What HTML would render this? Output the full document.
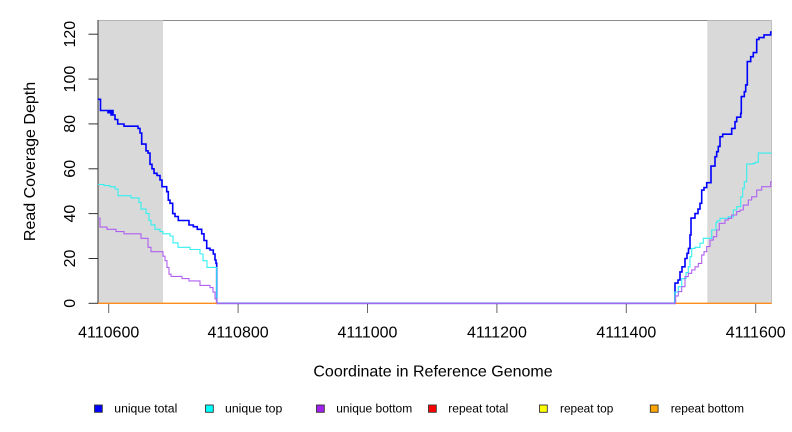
<!DOCTYPE html>
<html><head><meta charset="utf-8"><style>
html,body{margin:0;padding:0;background:#fff;}
svg{display:block;}
text{font-family:"Liberation Sans",Arial,sans-serif;fill:#000;}
</style></head><body>
<svg width="792" height="432" viewBox="0 0 792 432" xmlns="http://www.w3.org/2000/svg">
<rect x="0" y="0" width="792" height="432" fill="#fff"/>
<!-- shaded flank regions -->
<rect x="98" y="20.5" width="65" height="283" fill="#d9d9d9"/>
<rect x="707.3" y="20.5" width="64.4" height="283" fill="#d9d9d9"/>
<!-- box lines -->
<line x1="163" y1="20.5" x2="707.3" y2="20.5" stroke="#8c8c8c" stroke-width="1"/>
<line x1="98" y1="20.5" x2="163" y2="20.5" stroke="#b4b4b4" stroke-width="1"/>
<line x1="707.3" y1="20.5" x2="771.7" y2="20.5" stroke="#b4b4b4" stroke-width="1"/>
<line x1="771.5" y1="20.5" x2="771.5" y2="303.3" stroke="#c0c0c0" stroke-width="1"/>
<line x1="98" y1="20" x2="98" y2="303.3" stroke="#333" stroke-width="1"/>

<!-- y ticks -->
<g stroke="#333" stroke-width="1">
<line x1="88.5" y1="303.3" x2="98" y2="303.3"/>
<line x1="88.5" y1="258.5" x2="98" y2="258.5"/>
<line x1="88.5" y1="213.6" x2="98" y2="213.6"/>
<line x1="88.5" y1="168.8" x2="98" y2="168.8"/>
<line x1="88.5" y1="123.9" x2="98" y2="123.9"/>
<line x1="88.5" y1="79.1" x2="98" y2="79.1"/>
<line x1="88.5" y1="34.2" x2="98" y2="34.2"/>
</g>
<g font-size="16" text-anchor="middle">
<text transform="translate(75,303.3) rotate(-90)">0</text>
<text transform="translate(75,258.5) rotate(-90)">20</text>
<text transform="translate(75,213.6) rotate(-90)">40</text>
<text transform="translate(75,168.8) rotate(-90)">60</text>
<text transform="translate(75,123.9) rotate(-90)">80</text>
<text transform="translate(75,79.1) rotate(-90)">100</text>
<text transform="translate(75,34.2) rotate(-90)">120</text>
</g>
<text font-size="16" text-anchor="middle" transform="translate(35,161.5) rotate(-90)">Read Coverage Depth</text>

<!-- x ticks -->
<g stroke="#666" stroke-width="1">
<line x1="108.7" y1="304" x2="108.7" y2="313"/>
<line x1="238.1" y1="304" x2="238.1" y2="313"/>
<line x1="367.5" y1="304" x2="367.5" y2="313"/>
<line x1="496.9" y1="304" x2="496.9" y2="313"/>
<line x1="626.3" y1="304" x2="626.3" y2="313"/>
<line x1="755.7" y1="304" x2="755.7" y2="313"/>
</g>
<g font-size="16" text-anchor="middle">
<text x="108.7" y="337.3">4110600</text>
<text x="238.1" y="337.3">4110800</text>
<text x="367.5" y="337.3">4111000</text>
<text x="496.9" y="337.3">4111200</text>
<text x="626.3" y="337.3">4111400</text>
<text x="755.7" y="337.3">4111600</text>
</g>
<text font-size="16" text-anchor="middle" x="433" y="376.5">Coordinate in Reference Genome</text>

<!-- unique total (blue) -->
<path fill="none" stroke="#0000ff" stroke-width="1.6" stroke-linejoin="miter" d="
M98,99.3 H100.5 V110.5 H108 V112.7 H109.5 V110.5 H111 V115 H112 V110.5 H113 V115 H115 V119.5 H117.7 V124 H124 V126.2 H138 V128.4 H140 V133 H141.7 V144.1 H146 V150.8 H148 V153.1 H150 V164.3 H152 V168.8 H154 V173.3 H157 V175.5 H160 V180 H162 V186.7 H166.7 V191.7 H168.3 V200.2 H170 V203.3 H172.7 V213.6 H175 V216.5 H178.3 V220.5 H189 V225 H193.3 V226.7 H197.3 V229.3 H201.7 V233.8 H204 V240.5 H206.7 V248.3 H210 V250 H213.3 V254 H215 V260 H216 V263.3 H216.7 V303.3 H675
V283.1 H678 V280 H680 V271.9 H682 V266.8 H685 V258.5 H687 V253.3 H688.5 V248.4 H690 V234.9 H691 V218.1 H695 V213.6 H698 V209.1 H700 V203.3 H701.7 V190.1 H704 V187.6 H706.7 V182.7 H711 V166.1 H715 V156.7 H716.7 V151.7 H718.3 V146.4 H720 V136.7 H722.7 V134.2 H731.7 V128.4 H735 V121.7 H736.7 V117.2 H740.7 V113.4 H741.3 V96.6 H744.3 V91.7 H745.7 V84.9 H747.3 V61.6 H750.7 V56.7 H753.3 V52.6 H756.7 V39.4 H759 V37.6 H764 V34.9 H770.7 V32 H771.7"/>

<!-- unique top (cyan) -->
<path fill="none" stroke="#33f0f0" stroke-width="1.1" d="
M98,184.5 H104 V185.6 H110 V186.7 H115 V189 H118 V195.7 H131 V197.9 H139 V202.4 H141 V209.1 H146 V213.6 H149 V220.3 H151 V224.8 H155 V229.3 H160 V231.6 H163 V233.8 H170 V236 H173 V242.8 H178 V247.3 H190 V249.5 H200 V254 H203 V260.7 H207 V267.4 H216.7 V303.3 H675
V292.1 H678.3 V286.7 H681.7 V278.7 H686 V272.6 H688.3 V266.8 H690 V256.7 H691.7 V248.4 H695 V247.3 H700 V243.2 H703.3 V238.3 H711.7 V230 H716 V222.6 H717.3 V220.8 H720 V218.3 H728.3 V216.8 H733.3 V210 H736.7 V206.7 H740.7 V196.8 H742.7 V188.3 H744.3 V181.8 H746.7 V164.1 H753.3 V163.4 H755 V162.3 H758.3 V153.1 H771.7"/>

<!-- unique bottom (purple) -->
<path fill="none" stroke="#b060f0" stroke-width="1.1" d="
M98,218.1 H100 V227.1 H107 V229.3 H116 V231.6 H124 V233.8 H141 V238.3 H148 V247.3 H151 V251.7 H163 V256.2 H165 V260.7 H167 V267.4 H169 V274.2 H171 V276.4 H182 V278.6 H189 V280.9 H200 V285.4 H210 V287.6 H213 V292.1 H215 V298.8 H216.7 V303.3 H675.7
V295.9 H678.3 V291.6 H681.7 V286.7 H685 V276.6 H688.3 V273.3 H691.7 V269.9 H695 V266.8 H698.3 V263.4 H701.7 V255.1 H704 V251.7 H706.7 V246.6 H710 V240.1 H713.3 V236.7 H716.7 V230 H719.3 V223.3 H725 V219.9 H728.3 V218.3 H731.7 V215 H736.7 V211.6 H740 V210 H743.3 V205.1 H748.3 V200 H751.7 V196.8 H756.7 V190.1 H761.7 V186.7 H770.7 V181.8 H771.7"/>

<!-- repeat series at zero in flanks -->
<line x1="98" y1="303.3" x2="216.7" y2="303.3" stroke="#ff8c1a" stroke-width="1.4"/>
<line x1="675.7" y1="303.3" x2="771.7" y2="303.3" stroke="#ff8c1a" stroke-width="1.4"/>

<!-- legend -->
<g stroke="#333" stroke-width="0.9">
<rect x="94.5" y="405" width="7.8" height="7.3" fill="#0000ff"/>
<rect x="205.5" y="405" width="7.8" height="7.3" fill="#00ffff"/>
<rect x="316.5" y="405" width="7.8" height="7.3" fill="#a020f0"/>
<rect x="428.5" y="405" width="7.8" height="7.3" fill="#ff0000"/>
<rect x="539.5" y="405" width="7.8" height="7.3" fill="#ffff00"/>
<rect x="650.3" y="405" width="7.8" height="7.3" fill="#ffa500"/>
</g>
<g font-size="12.2">
<text x="114.3" y="412.4" textLength="63" lengthAdjust="spacingAndGlyphs">unique total</text>
<text x="225" y="412.4" textLength="57.3" lengthAdjust="spacingAndGlyphs">unique top</text>
<text x="336.2" y="412.4" textLength="76" lengthAdjust="spacingAndGlyphs">unique bottom</text>
<text x="448.3" y="412.4" textLength="60" lengthAdjust="spacingAndGlyphs">repeat total</text>
<text x="560" y="412.4" textLength="53.3" lengthAdjust="spacingAndGlyphs">repeat top</text>
<text x="670.7" y="412.4" textLength="73.3" lengthAdjust="spacingAndGlyphs">repeat bottom</text>
</g>
</svg>
</body></html>
